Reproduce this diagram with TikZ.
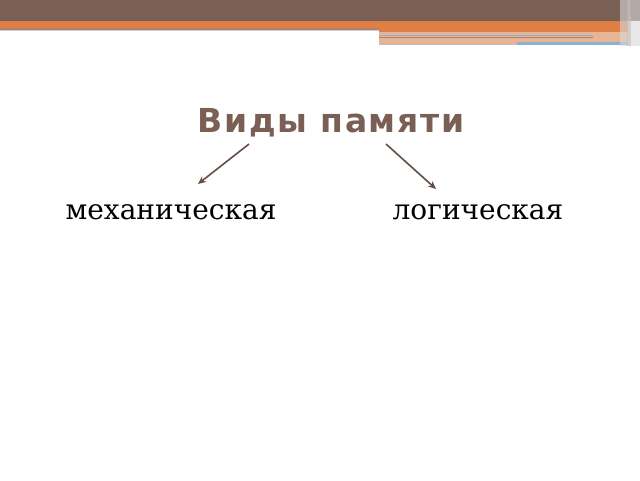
\documentclass[tikz,border=0pt]{standalone}
\usepackage{fontspec}
\usetikzlibrary{arrows.meta}
\newfontfamily\titlefont[LetterSpace=5]{DejaVu Sans}
\newfontfamily\wordfont{DejaVu Serif}
\definecolor{hbrown}{RGB}{122,95,85}
\definecolor{horange}{RGB}{222,128,70}
\definecolor{hpale}{RGB}{232,180,150}
\definecolor{hblue}{RGB}{140,176,208}
\definecolor{hline}{RGB}{176,130,110}
\definecolor{arrowc}{RGB}{100,78,70}
\tikzset{
  titletext/.style={font=\titlefont\bfseries\fontsize{33}{36}\selectfont, text=hbrown, anchor=base, inner sep=0pt},
  wordtext/.style={font=\wordfont\fontsize{28}{32}\selectfont, text=black, anchor=base, inner sep=0pt},
  arr/.style={draw=arrowc, line width=1.6pt, -{Stealth[length=8pt,width=7pt]}}
}
\begin{document}
\begin{tikzpicture}[x=1pt,y=-1pt]
\useasboundingbox (0,0) rectangle (640,480);
\fill[white] (0,0) rectangle (640,480);
% header
\fill[hpale] (379,32) rectangle (628,44);
\fill[hbrown] (0,0) rectangle (640,21);
\fill[horange] (0,21) rectangle (379,28);
\fill[hline] (0,28) rectangle (379,29.5);
\fill[black!20] (0,29.5) rectangle (379,31);
\fill[horange] (379,21) rectangle (628,32);
\fill[hblue] (379,34.5) rectangle (593,36);
\fill[hline] (379,36.5) rectangle (593,38);
\fill[hblue] (517,42) rectangle (628,44.5);
\fill[black!25] (379,44) rectangle (517,45);
\fill[black!15,opacity=0.6] (620,0) rectangle (640,46);
\fill[black!25,opacity=0.6] (627,0) rectangle (631,46);
% texts
\node[titletext] (title) at (331,132) {Виды памяти};
\node[wordtext] (mech) at (171,219) {механическая};
\node[wordtext] (logic) at (478,219) {логическая};
% arrows
\coordinate (ls) at (249,144);
\coordinate (le) at (198,184);
\coordinate (rs) at (386,144);
\coordinate (re) at (436,189);
\draw[arr] (ls) -- (le);
\draw[arr] (rs) -- (re);
\end{tikzpicture}
\end{document}
